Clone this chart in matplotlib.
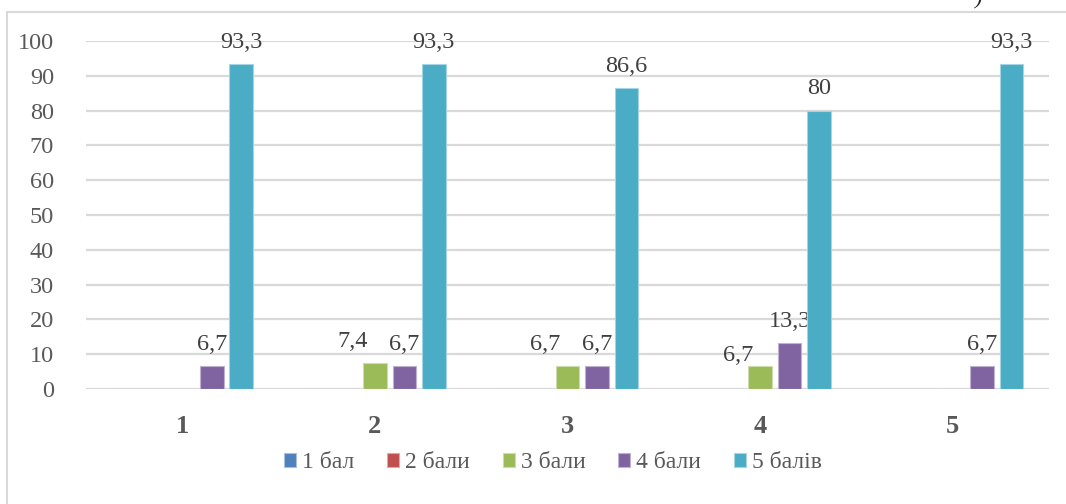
import matplotlib.pyplot as plt
import numpy as np
from matplotlib.patches import Rectangle

categories = ["1", "2", "3", "4", "5"]
series_names = ["1 бал", "2 бали", "3 бали", "4 бали", "5 балів"]
bal_1 = [0, 0, 0, 0, 0]
bal_2 = [0, 0, 0, 0, 0]
bal_3 = [0, 7.4, 6.7, 6.7, 0]
bal_4 = [6.7, 6.7, 6.7, 13.3, 6.7]
bal_5 = [93.3, 93.3, 86.6, 80, 93.3]
y_ticks = [0, 10, 20, 30, 40, 50, 60, 70, 80, 90, 100]

colors = ["#4F81BD", "#C0504D", "#9BBB59", "#8064A2", "#4BACC6"]
edges = ["#A7C0DE", "#E0A8A6", "#CDDDAC", "#BFB1D0", "#A5D5E2"]

plt.rcParams['font.family'] = ['Liberation Serif', 'DejaVu Serif']

fig = plt.figure(figsize=(10.66, 5.04), dpi=100)
ax = fig.add_axes([86 / 1066, 1 - 389 / 504, (1049 - 86) / 1066, (389 - 41) / 504])

# chart frame (cut off at right and bottom like the screenshot)
fig.patches.append(Rectangle((7 / 1066, -0.1), 1.2, 1 - 12 / 504 + 0.1,
                             transform=fig.transFigure, fill=False,
                             edgecolor="#D9D9D9", linewidth=1.5))
# fragment of text above the chart
fig.text(978 / 1066, 1.0, ")", fontsize=16, style="italic", color="#222222",
         ha="center", va="center")

x = np.arange(len(categories))
pitch = 0.153
width = 0.122
all_series = [bal_1, bal_2, bal_3, bal_4, bal_5]

# small manual nudges of the labels (points), as in the original
nudges = {(2, 1): (-16, 8), (2, 2): (-16, 8), (2, 3): (-16, 0), (4, 3): (0, 8)}

for i, (name, vals) in enumerate(zip(series_names, all_series)):
    xs = x + (i - 2) * pitch
    bars = ax.bar(xs, vals, width, color=colors[i], edgecolor=edges[i],
                  linewidth=0.8, label=name, zorder=3)
    for j, (bx, v) in enumerate(zip(xs, vals)):
        if v == 0:
            continue
        dx, dy = nudges.get((i, j), (0, 8))
        ax.annotate(f"{v:g}".replace(".", ","), (bx, v), xytext=(dx, dy),
                    textcoords="offset points", ha="center", va="bottom",
                    fontsize=17.5, color="#404040")

ax.set_xlim(-0.5, len(categories) - 0.5)
ax.set_ylim(0, 100)
ax.set_yticks(y_ticks)
ax.set_xticks(x)
ax.set_xticklabels(categories, fontsize=19, fontweight="bold", color="#595959")
ax.tick_params(axis="y", length=0, pad=23, labelsize=17.5, labelcolor="#595959")
ax.tick_params(axis="x", length=0, pad=19)
ax.grid(axis="y", color="#D9D9D9", linewidth=1.6, zorder=0)
for s in ax.spines.values():
    s.set_visible(False)

fig.legend(loc="center", bbox_to_anchor=(553 / 1066, 1 - 463 / 504), ncol=5,
           frameon=False, fontsize=17, handlelength=0.5, handleheight=0.5,
           handletextpad=0.25, columnspacing=1.4, labelcolor="#595959")

fig.savefig("out.png", dpi=100)
